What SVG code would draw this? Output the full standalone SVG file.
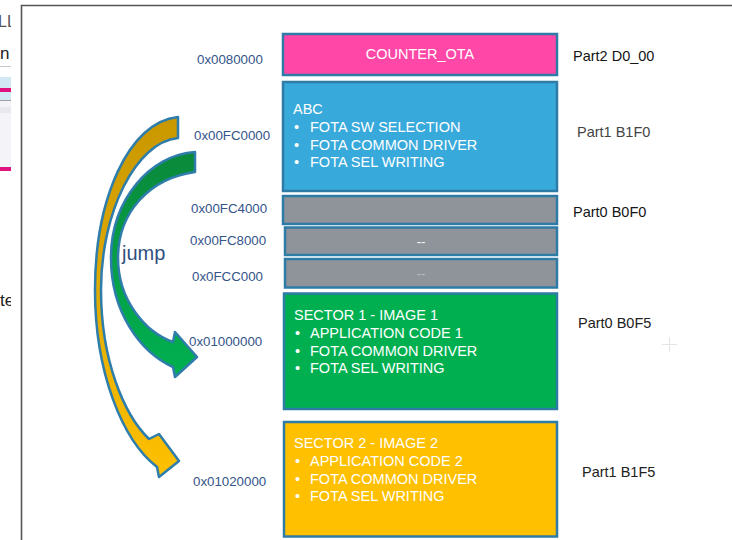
<svg xmlns="http://www.w3.org/2000/svg" width="732" height="540" viewBox="0 0 732 540">
<defs>
<style>
.box{stroke:#2E7BA6;stroke-width:2.5}
.wt{font-family:"Liberation Sans",Arial,sans-serif;font-size:14.5px;fill:#FFFFFF}
.addr{font-family:"Liberation Sans",Arial,sans-serif;font-size:13.3px;fill:#34548A}
.part{font-family:"Liberation Sans",Arial,sans-serif;font-size:14.5px;fill:#151515}
.arrow{stroke:#2E7DAA;stroke-width:2.5;stroke-linejoin:round}
.side{font-family:"Liberation Sans",Arial,sans-serif;font-size:17px;fill:#222}
</style>
<linearGradient id="gGold" x1="0" y1="0" x2="0" y2="1">
<stop offset="0" stop-color="#C99700"/>
<stop offset="0.45" stop-color="#E0AA00"/>
<stop offset="1" stop-color="#FFC000"/>
</linearGradient>
<linearGradient id="gGreen" x1="0" y1="0" x2="0" y2="1">
<stop offset="0" stop-color="#0A883A"/>
<stop offset="0.5" stop-color="#05A046"/>
<stop offset="1" stop-color="#00B050"/>
</linearGradient>
<clipPath id="sideClip"><rect x="0" y="0" width="11" height="540"/></clipPath>
</defs>
<rect x="0" y="0" width="732" height="540" fill="#FFFFFF"/>

<g id="sidebar" clip-path="url(#sideClip)">
<text class="side" x="-2" y="27" style="fill:#555;font-size:16px">LL</text>
<text class="side" x="0" y="59">n</text>
<rect x="0" y="66" width="11" height="1" fill="#C8C8C8"/>
<rect x="0" y="77" width="11" height="23" fill="#D2E8F4"/>
<rect x="0" y="88" width="11" height="4" fill="#E0137E"/>
<rect x="0" y="100" width="11" height="1" fill="#9AA0A6"/>
<rect x="0" y="101" width="11" height="66" fill="#F4F4F8"/>
<rect x="0" y="107" width="11" height="6" fill="#E8E8EE"/>
<rect x="0" y="167" width="11" height="4" fill="#E0137E"/>
<text class="side" x="0" y="306">te</text>
</g>

<path id="frame" d="M21.5,540 L21.5,5.5 L732,5.5" fill="none" stroke="#555" stroke-width="1.6"/>

<g id="connectors">
<path id="arrow-gold" class="arrow" fill="url(#gGold)" d="M178,117 C128,122 95,200 95,290 C95,372 122,440 157,467 L159,477 L179,461 L159,434 L149,439 C124,415 101,360 101,290 C101,212 136,142 178,138 Z"/>
<path id="arrow-green" class="arrow" fill="url(#gGreen)" d="M195,152 C150,155 111,200 111,258 C111,312 140,352 173,367 L175,377 L197,357 L175,332 L173,342 C145,332 118,300 118,258 C118,212 150,178 195,172 Z"/>
<text id="jump" x="122" y="260" style="font-family:'Liberation Sans',Arial,sans-serif;font-size:20px;fill:#2F4F80">jump</text>
</g>

<g id="node-counter">
<rect class="box" x="283" y="34" width="274" height="41" fill="#FF47A8"/>
<text class="wt" x="420" y="59" text-anchor="middle">COUNTER_OTA</text>
</g>

<g id="node-abc">
<rect class="box" x="283" y="82" width="274" height="109" fill="#38A9DB"/>
<text class="wt" x="293" y="114">ABC</text>
<text class="wt" x="294" y="132">•</text><text class="wt" x="310" y="132">FOTA SW SELECTION</text>
<text class="wt" x="294" y="150">•</text><text class="wt" x="310" y="150">FOTA COMMON DRIVER</text>
<text class="wt" x="294" y="167">•</text><text class="wt" x="310" y="167">FOTA SEL WRITING</text>
</g>

<g id="node-gray1">
<rect class="box" x="283" y="196" width="274" height="28" fill="#8E949A"/>
</g>
<g id="node-gray2">
<rect class="box" x="285" y="227.5" width="272" height="27.5" fill="#8E949A"/>
<text class="wt" x="421" y="246" text-anchor="middle" style="font-size:13px">--</text>
</g>
<g id="node-gray3">
<rect class="box" x="285" y="259" width="272" height="28.5" fill="#8E949A"/>
<text class="wt" x="421" y="278" text-anchor="middle" style="font-size:13px;fill:#B9BDC2">--</text>
</g>

<g id="node-sector1">
<rect class="box" x="284" y="293.5" width="273" height="115.5" fill="#00B050"/>
<text class="wt" x="294" y="320">SECTOR 1 - IMAGE 1</text>
<text class="wt" x="295" y="338">•</text><text class="wt" x="310" y="338">APPLICATION CODE 1</text>
<text class="wt" x="295" y="356">•</text><text class="wt" x="310" y="356">FOTA COMMON DRIVER</text>
<text class="wt" x="295" y="373">•</text><text class="wt" x="310" y="373">FOTA SEL WRITING</text>
</g>

<g id="node-sector2">
<rect class="box" x="284" y="422" width="273" height="114.5" fill="#FFC000"/>
<text class="wt" x="294" y="448">SECTOR 2 - IMAGE 2</text>
<text class="wt" x="295" y="466">•</text><text class="wt" x="310" y="466">APPLICATION CODE 2</text>
<text class="wt" x="295" y="484">•</text><text class="wt" x="310" y="484">FOTA COMMON DRIVER</text>
<text class="wt" x="295" y="501">•</text><text class="wt" x="310" y="501">FOTA SEL WRITING</text>
</g>

<g id="addresses">
<text class="addr" x="197" y="64">0x0080000</text>
<text class="addr" x="194" y="140">0x00FC0000</text>
<text class="addr" x="191" y="213">0x00FC4000</text>
<text class="addr" x="190" y="245">0x00FC8000</text>
<text class="addr" x="192" y="281">0x0FCC000</text>
<text class="addr" x="189" y="346">0x01000000</text>
<text class="addr" x="193" y="486">0x01020000</text>
</g>

<g id="parts">
<text class="part" x="573" y="61">Part2 D0_00</text>
<text class="part" x="577" y="137" style="fill:#444">Part1 B1F0</text>
<text class="part" x="573" y="217">Part0 B0F0</text>
<text class="part" x="578" y="328" style="fill:#222">Part0 B0F5</text>
<text class="part" x="582" y="477" style="fill:#222">Part1 B1F5</text>
</g>

<g id="cursor-mark" stroke="#E4E4E4" stroke-width="1">
<line x1="662" y1="344.5" x2="677" y2="344.5"/>
<line x1="669.5" y1="337" x2="669.5" y2="352"/>
</g>
</svg>
